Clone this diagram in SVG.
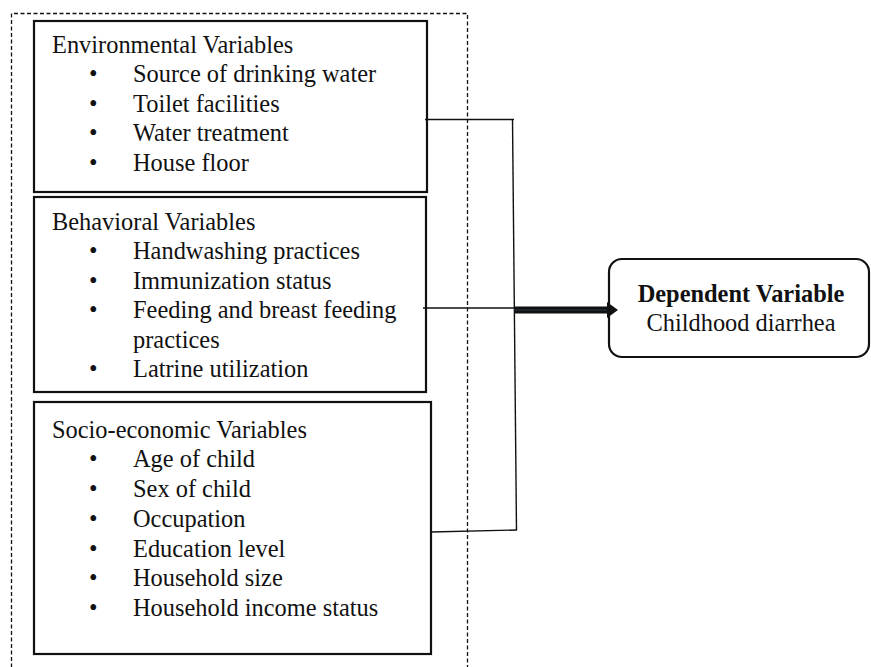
<svg xmlns="http://www.w3.org/2000/svg" width="871" height="667" viewBox="0 0 871 667">
<style>
.box{fill:#fff;stroke:#111;stroke-width:2.2}
.dash{fill:none;stroke:#111;stroke-width:1.3;stroke-dasharray:4 2.5}
.t{font-family:"Liberation Serif","Times New Roman",serif;font-size:24.4px;fill:#111}
.b{font-weight:bold}
.line{fill:none;stroke:#111;stroke-width:1.4}
</style>
<rect width="871" height="667" fill="#fff"/>
<path class="dash" d="M11.5,700 V13.5 H467.5 V700"/>
<g id="environmental">
<rect class="box" x="34" y="21" width="393" height="171"/>
<text class="t" x="52" y="53">Environmental Variables</text>
<text class="t" x="89" y="82">•</text><text class="t" x="133" y="82">Source of drinking water</text>
<text class="t" x="89" y="111.5">•</text><text class="t" x="133" y="111.5">Toilet facilities</text>
<text class="t" x="89" y="141">•</text><text class="t" x="133" y="141">Water treatment</text>
<text class="t" x="89" y="170.5">•</text><text class="t" x="133" y="170.5">House floor</text>
</g>
<g id="behavioral">
<rect class="box" x="34" y="197" width="392" height="195"/>
<text class="t" x="52" y="230">Behavioral Variables</text>
<text class="t" x="89" y="259">•</text><text class="t" x="133" y="259">Handwashing practices</text>
<text class="t" x="89" y="288.5">•</text><text class="t" x="133" y="288.5">Immunization status</text>
<text class="t" x="89" y="318">•</text><text class="t" x="133" y="318">Feeding and breast feeding</text>
<text class="t" x="133" y="347.5">practices</text>
<text class="t" x="89" y="377">•</text><text class="t" x="133" y="377">Latrine utilization</text>
</g>
<g id="socioeconomic">
<rect class="box" x="34" y="402" width="397" height="252"/>
<text class="t" x="52" y="438">Socio-economic Variables</text>
<text class="t" x="89" y="467">•</text><text class="t" x="133" y="467">Age of child</text>
<text class="t" x="89" y="497">•</text><text class="t" x="133" y="497">Sex of child</text>
<text class="t" x="89" y="527">•</text><text class="t" x="133" y="527">Occupation</text>
<text class="t" x="89" y="556.5">•</text><text class="t" x="133" y="556.5">Education level</text>
<text class="t" x="89" y="586">•</text><text class="t" x="133" y="586">Household size</text>
<text class="t" x="89" y="616">•</text><text class="t" x="133" y="616">Household income status</text>
</g>
<g id="dependent">
<rect class="box" x="609" y="259" width="260" height="98" rx="13" ry="13"/>
<text class="t b" x="741" y="302" text-anchor="middle">Dependent Variable</text>
<text class="t" x="741" y="331" text-anchor="middle">Childhood diarrhea</text>
</g>
<g id="connectors">
<path class="line" d="M425,119.5 H514"/>
<path class="line" d="M512.5,119.5 L516.5,530"/>
<path class="line" d="M431,532 L517,530"/>
<path class="line" d="M423,308 H514"/>
<rect x="514" y="306.5" width="95" height="7" fill="#111"/>
<path d="M514,310 H609" stroke="#2a3550" stroke-width="1"/>
<polygon points="607,302 618,310 607,318" fill="#111"/>
</g>
</svg>
